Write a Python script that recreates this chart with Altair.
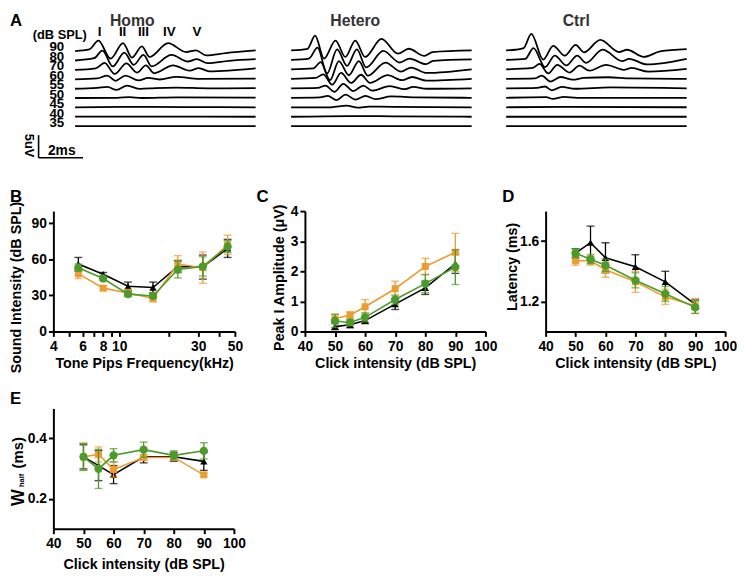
import altair as alt
import pandas as pd

FONT = "Liberation Sans"
BLACK = "#000000"
ORANGE = "#EE9B2F"
GREEN = "#4C9A2A"

# ---------------- Panel A: ABR traces (time ms, amplitude uV) ----------------
levels = [90, 80, 70, 60, 55, 50, 45, 40, 35]

homo_t = [
    [0, 0.64, 1.05, 1.6, 2.16, 2.56, 3.01, 3.35, 4.19, 5.0, 5.45, 5.9, 6.79, 8.13],
    [0, 0.86, 1.23, 1.7, 2.22, 2.64, 3.08, 3.45, 4.34, 5.08, 5.48, 5.97, 6.93, 8.13],
    [0, 0.93, 1.33, 1.78, 2.31, 2.79, 3.19, 3.56, 4.41, 5.16, 5.57, 6.04, 8.13],
    [0, 1.0, 1.45, 1.82, 2.27, 2.86, 3.3, 3.8, 4.56, 5.6, 8.13],
    [0, 1.0, 1.45, 1.87, 2.34, 2.93, 3.6, 4.56, 6.0, 8.13],
    [0, 1.9, 2.45, 3.0, 4.6, 8.13],
    [0, 2.5, 5.0, 8.13],
    [0, 4.0, 8.13],
    [0, 4.0, 8.13],
]
homo_v = [
    [-0.14, 0.22, 2.17, -1.81, 1.59, -1.59, 0.87, -1.45, 1.59, -0.36, 0.0, -1.09, -0.58, 0.0],
    [-0.14, 0.36, 2.03, -1.45, 1.59, -1.09, 1.09, -1.45, 1.09, -0.36, 0.14, -0.72, -0.22, 0.14],
    [-0.14, 0.22, 1.45, -1.01, 1.3, -0.72, 0.87, -0.87, 0.87, -0.29, 0.29, -0.43, 0.22],
    [-0.1, 0.1, 0.72, -0.43, 0.72, -0.36, 0.2, -0.15, 0.43, 0.0, 0.05],
    [-0.1, 0.07, 0.3, -0.36, 0.58, -0.14, 0.05, 0.15, 0.0, 0.05],
    [-0.05, 0.0, 0.15, -0.05, 0.08, 0.05],
    [0.0, 0.1, 0.05, 0.0],
    [0.05, 0.05, 0.0],
    [0.0, 0.02, 0.0],
]

hetero_t = [
    [0, 0.74, 1.08, 1.48, 2.0, 2.44, 2.89, 3.33, 4.07, 4.81, 5.3, 6.0, 6.37, 8.13],
    [0, 0.8, 1.19, 1.62, 2.07, 2.52, 2.96, 3.38, 4.15, 4.89, 5.33, 6.07, 6.4, 8.13],
    [0, 1.0, 1.33, 1.75, 2.15, 2.6, 3.05, 3.45, 4.25, 4.95, 5.4, 6.1, 8.13],
    [0, 1.1, 1.45, 1.85, 2.25, 2.7, 3.15, 3.55, 4.35, 5.0, 5.45, 6.1, 8.13],
    [0, 1.2, 1.55, 1.95, 2.35, 2.8, 3.25, 3.65, 4.45, 5.1, 5.5, 6.1, 8.13],
    [0, 1.3, 1.65, 2.05, 2.45, 2.9, 3.35, 3.8, 4.5, 5.6, 8.13],
    [0, 1.8, 2.5, 3.0, 3.5, 4.6, 8.13],
    [0, 2.6, 4.6, 8.13],
    [0, 4.0, 8.13],
]
hetero_v = [
    [0, 0.36, 3.26, -1.8, 2.17, -1.45, 2.17, -1.45, 2.54, -0.72, 0.36, -1.23, -0.36, 0.0],
    [0, 0.3, 2.68, -3.0, 2.3, -1.3, 2.3, -1.67, 1.96, -0.58, 0.29, -0.94, -0.2, 0.1],
    [0, 0.2, 1.6, -2.4, 1.8, -1.3, 1.8, -1.4, 1.5, -0.5, 0.4, -0.8, 0],
    [0, 0.2, 1.0, -1.3, 1.3, -0.9, 0.9, -0.9, 0.8, -0.3, 0.4, -0.4, 0],
    [0, 0.1, 0.6, -0.8, 1.0, -0.6, 0.6, -0.5, 0.5, -0.2, 0.3, -0.1, 0],
    [0, 0.1, 0.4, -0.5, 0.7, -0.4, 0.4, -0.3, 0.3, 0.1, 0],
    [0, 0.0, 0.35, -0.1, 0.15, 0.1, 0],
    [0, 0.15, 0.1, 0],
    [0, 0.0, 0],
]

ctrl_t = [
    [0, 0.41, 0.79, 1.13, 1.67, 2.12, 2.64, 3.13, 3.5, 4.24, 5.08, 5.45, 6.19, 6.93, 8.13],
    [0, 0.86, 1.23, 1.75, 2.19, 2.71, 3.2, 3.6, 4.34, 5.23, 5.53, 6.34, 8.13],
    [0, 1.2, 1.5, 1.9, 2.3, 2.85, 3.3, 3.75, 4.5, 5.3, 5.65, 6.4, 8.13],
    [0, 1.3, 1.6, 2.0, 2.45, 3.0, 3.5, 4.6, 5.6, 8.13],
    [0, 1.4, 1.75, 2.05, 2.5, 3.1, 4.7, 8.13],
    [0, 1.8, 2.1, 2.6, 3.2, 8.13],
    [0, 2.6, 8.13],
    [0, 8.13],
    [0, 8.13],
]
ctrl_v = [
    [0, 0.14, 0.51, 3.62, -2.03, 1.01, -1.16, 1.23, -0.43, 2.32, -0.36, 0.14, -1.45, -0.22, 0.29],
    [0, 0.22, 2.6, -1.6, 0.94, -1.23, 0.94, -0.65, 2.25, -0.29, 0.22, -1.01, 0.22],
    [0, 0.3, 1.2, -0.9, 1.0, -0.7, 0.8, -0.3, 1.0, -0.1, 0.3, -0.5, 0.1],
    [0, 0.1, 0.7, -0.6, 0.4, -0.2, 0.2, 0.35, 0.1, 0],
    [0, 0.1, 0.4, -0.45, 0.3, -0.1, 0.2, 0],
    [0, 0.15, -0.25, 0.2, 0, 0],
    [0, 0.1, 0],
    [0, 0],
    [0, 0],
]

wave_numerals = ["I", "II", "III", "IV", "V"]
wave_numeral_ms = [1.1, 2.14, 3.08, 4.24, 5.49]

# ---------------- Panel B: thresholds ----------------
freq_khz = [5.66, 8, 11.3, 16, 22.6, 32, 45.2]
b_ctrl = [56, 47.5, 37.5, 36.5, 54, 53.5, 69]
b_ctrl_err = [5.5, 1.5, 3.5, 4.5, 5, 10, 7.5]
b_het = [48, 36, 32, 27.5, 56, 53, 72]
b_het_err = [4, 2, 3, 3, 7, 13, 8]
b_homo = [53, 44, 31, 29.5, 51.5, 54, 70.5]
b_homo_err = [3, 1.5, 2, 2, 7, 8, 5]

# ---------------- Panels C, D, E ----------------
click_db = [50, 55, 60, 70, 80, 90]
c_ctrl = [0.16, 0.22, 0.36, 0.91, 1.45, 2.25]
c_ctrl_err = [0.1, 0.1, 0.1, 0.18, 0.22, 0.32]
c_het = [0.42, 0.55, 0.82, 1.42, 2.16, 2.63]
c_het_err = [0.15, 0.1, 0.24, 0.25, 0.27, 0.63]
c_homo = [0.35, 0.30, 0.47, 1.06, 1.59, 2.14]
c_homo_err = [0.22, 0.1, 0.15, 0.15, 0.3, 0.58]

d_ctrl = [1.52, 1.59, 1.49, 1.43, 1.33, 1.18]
d_ctrl_err = [0.03, 0.11, 0.10, 0.08, 0.07, 0.03]
d_het = [1.47, 1.47, 1.41, 1.33, 1.23, 1.17]
d_het_err = [0.03, 0.03, 0.05, 0.07, 0.05, 0.05]
d_homo = [1.52, 1.48, 1.44, 1.34, 1.25, 1.16]
d_homo_err = [0.03, 0.03, 0.04, 0.05, 0.05, 0.04]

e_ctrl = [0.339, 0.31, 0.28, 0.339, 0.339, 0.324]
e_ctrl_err = [0.04, 0.05, 0.03, 0.02, 0.015, 0.03]
e_het = [0.339, 0.347, 0.297, 0.337, 0.337, 0.279]
e_het_err = [0.045, 0.025, 0.025, 0.01, 0.01, 0.005]
e_homo = [0.339, 0.299, 0.344, 0.363, 0.344, 0.359]
e_homo_err = [0.045, 0.065, 0.022, 0.025, 0.015, 0.027]

# ---------------- helpers ----------------
T_END = 8.13
TRACE_W = 183
GAP_UV = 2.09
WAVE_H = 100
WAVE_DOMAIN = [-1.75, 20.0]
PX_PER_UV = WAVE_H / (WAVE_DOMAIN[1] - WAVE_DOMAIN[0])
PX_PER_MS = TRACE_W / T_END


def label(text, x, y, size=17, align="left", baseline="top", angle=0, color=BLACK, weight="bold"):
    kw = dict(font=FONT, fontSize=size, fontWeight=weight, align=align, baseline=baseline, color=color)
    if angle:
        kw["angle"] = angle
    return alt.Chart(pd.DataFrame({"s": [text]})).mark_text(**kw).encode(
        text="s:N", x=alt.value(x), y=alt.value(y))


def wave_panel(ts, vs, width, x0, extras_fn):
    rows = []
    n = len(levels)
    for i, lv in enumerate(levels):
        for t, v in zip(ts[i], vs[i]):
            rows.append({"level": lv, "t": t, "uv": v + (n - 1 - i) * GAP_UV})
    df = pd.DataFrame(rows)
    X = alt.X("t:Q", scale=alt.Scale(domain=[0, T_END], range=[x0, x0 + TRACE_W], nice=False, zero=False), axis=None)
    Y = alt.Y("uv:Q", scale=alt.Scale(domain=WAVE_DOMAIN, nice=False, zero=False), axis=None)
    lines = alt.Chart(df).mark_line(color=BLACK, strokeWidth=1.8, interpolate="monotone").encode(
        x=X, y=Y, detail="level:O")
    return alt.layer(lines, *extras_fn(X, Y)).properties(width=width, height=WAVE_H)


def homo_extras(X, Y):
    n = len(levels)
    lv_df = pd.DataFrame({"lv": [str(l) for l in levels],
                          "uv": [(n - 1 - i) * GAP_UV for i in range(n)]})
    lv_text = alt.Chart(lv_df).mark_text(font=FONT, fontSize=13.5, fontWeight="bold", align="right",
                                         baseline="middle", dy=-3, color=BLACK).encode(
        text="lv:N", x=alt.value(11), y=Y)
    num_df = pd.DataFrame({"n": wave_numerals, "t": wave_numeral_ms})
    num_text = alt.Chart(num_df).mark_text(font=FONT, fontSize=13.5, fontWeight="bold", align="center",
                                           baseline="middle", color=BLACK).encode(
        text="n:N", x=X, y=alt.value(-3.5))
    # scale bar: 5 uV vertical, 2 ms horizontal
    bx, by = -15, 124
    bar_df = pd.DataFrame({"k": [0]})
    vbar = alt.Chart(bar_df).mark_rule(color=BLACK, strokeWidth=1.6).encode(
        x=alt.value(bx), y=alt.value(by), y2=alt.value(by - 5 * PX_PER_UV))
    hbar = alt.Chart(bar_df).mark_rule(color=BLACK, strokeWidth=1.6).encode(
        x=alt.value(bx), x2=alt.value(bx + 2 * PX_PER_MS), y=alt.value(by))
    return [
        lv_text, num_text, vbar, hbar,
        label("A", -44, -23, 17),
        label("Homo", 80, -23, 16, align="center", color="#333333"),
        label("(dB SPL)", 6.5, -0.5, 13, align="center", baseline="middle"),
        label("5uV", -25, 111.5, 13, align="center", baseline="middle", angle=90),
        label("2ms", 8.5, 117, 14, align="center", baseline="middle"),
    ]


def simple_extras(title, x):
    def fn(X, Y):
        return [label(title, x, -23, 16, align="center", color="#333333")]
    return fn


# columns are aligned: column lefts at page x 52, 307, 551
homo = wave_panel(homo_t, homo_v, 205, 22, homo_extras)
hetero = wave_panel(hetero_t, hetero_v, 183, -14, simple_extras("Hetero", 51))
ctrl = wave_panel(ctrl_t, ctrl_v, 183, -40, simple_extras("Ctrl", 31))


def data_panel(x_vals, series, xscale, yscale, xaxis, yaxis, width, height, extras):
    layers = []
    for ys, errs, color, shape, size in series:
        df = pd.DataFrame({"x": x_vals, "y": ys,
                           "lo": [a - e for a, e in zip(ys, errs)],
                           "hi": [a + e for a, e in zip(ys, errs)]})
        base = alt.Chart(df)
        X = alt.X("x:Q", scale=xscale, axis=xaxis)
        layers.append(base.mark_rule(color=color, strokeWidth=1.3).encode(
            x=X, y=alt.Y("lo:Q", scale=yscale, axis=yaxis), y2="hi:Q"))
        for f in ("lo", "hi"):
            layers.append(base.mark_tick(color=color, orient="horizontal", size=8, thickness=1.4).encode(
                x=X, y=alt.Y(f + ":Q", scale=yscale, axis=yaxis)))
        layers.append(base.mark_line(color=color, strokeWidth=1.6).encode(
            x=X, y=alt.Y("y:Q", scale=yscale, axis=yaxis)))
        layers.append(base.mark_point(shape=shape, filled=True, opacity=1, size=size, color=color).encode(
            x=X, y=alt.Y("y:Q", scale=yscale, axis=yaxis)))
    return alt.layer(*layers, *extras).properties(width=width, height=height)


def ser(c, ce, h, he, m, me):
    return [
        (c, ce, BLACK, "triangle-up", 55),
        (h, he, ORANGE, "square", 50),
        (m, me, GREEN, "circle", 70),
    ]


AX = dict(domainColor=BLACK, domainWidth=2, tickColor=BLACK, tickWidth=2, tickSize=5,
          labelFont=FONT, labelFontSize=14, labelFontWeight="bold", labelColor=BLACK,
          titleFont=FONT, titleFontSize=14.5, titleFontWeight="bold", titleColor=BLACK,
          grid=False, labelFlush=False, labelOverlap=False)

XAX = dict(AX, labelPadding=3, titlePadding=4)
YAX = dict(AX, labelPadding=2, titleAngle=270, titleBaseline="middle", titleAlign="center")

click_axis = alt.Axis(values=[40, 50, 60, 70, 80, 90, 100], title="Click intensity (dB SPL)", **XAX)
click_axis_e = alt.Axis(values=[40, 50, 60, 70, 80, 90, 100], title="Click intensity (dB SPL)",
                        **dict(XAX, titlePadding=7))

# Panel B
b_x_axis = alt.Axis(values=[4, 5, 6, 7, 8, 9, 10, 20, 30, 40, 50],
                    labelExpr="indexof([4,6,8,10,30,50], datum.value) >= 0 ? '' + datum.value : ''",
                    title="Tone Pips Frequency(kHz)", **XAX)
panel_b = data_panel(
    freq_khz, ser(b_ctrl, b_ctrl_err, b_het, b_het_err, b_homo, b_homo_err),
    alt.Scale(type="log", domain=[4, 50], range=[0, 184], nice=False),
    alt.Scale(domain=[0, 100], nice=False, zero=False),
    b_x_axis,
    alt.Axis(values=[0, 30, 60, 90], title="Sound Intensity (dB SPL)", titleX=-37, titleY=77, **YAX),
    219, 122, [label("B", -44, -22, 17)])

panel_c = data_panel(
    click_db, ser(c_ctrl, c_ctrl_err, c_het, c_het_err, c_homo, c_homo_err),
    alt.Scale(domain=[40, 100], range=[0, 183], nice=False, zero=False),
    alt.Scale(domain=[0, 4], nice=False, zero=False),
    click_axis,
    alt.Axis(values=[0, 1, 2, 3, 4], title="Peak I Amplitude (\u03bcV)", titleX=-26, titleY=67, **YAX),
    208, 122, [label("C", -49, -22, 17)])

panel_d = data_panel(
    click_db, ser(d_ctrl, d_ctrl_err, d_het, d_het_err, d_homo, d_homo_err),
    alt.Scale(domain=[40, 100], nice=False, zero=False),
    alt.Scale(domain=[1.0, 1.8], nice=False, zero=False),
    click_axis,
    alt.Axis(values=[1.2, 1.6], format=".1f", title="Latency (ms)", titleX=-34, titleY=56, **YAX),
    182, 122, [label("D", -44, -22, 17)])

panel_e = data_panel(
    click_db, ser(e_ctrl, e_ctrl_err, e_het, e_het_err, e_homo, e_homo_err),
    alt.Scale(domain=[40, 100], nice=False, zero=False),
    alt.Scale(domain=[0.1, 0.5], nice=False, zero=False),
    click_axis_e,
    alt.Axis(values=[0.2, 0.4], format=".1f", title="", **YAX),
    183, 122,
    [label("E", -44, -17, 17),
     label("W", -35, 90.5, 18, align="center", baseline="middle", angle=270),
     label("half", -32, 73, 7.5, align="center", baseline="middle", angle=270),
     label("(ms)", -36, 45, 15, align="center", baseline="middle", angle=270)])

chart = alt.concat(
    homo, hetero, ctrl, panel_b, panel_c, panel_d, panel_e,
    columns=3, spacing={"row": 78, "column": 36}, bounds="flush",
).properties(
    padding={"left": 0, "top": 0, "right": 0, "bottom": 0}
).configure_view(stroke=None)

chart.save("out.html", embed_options={"renderer": "svg", "actions": False})
